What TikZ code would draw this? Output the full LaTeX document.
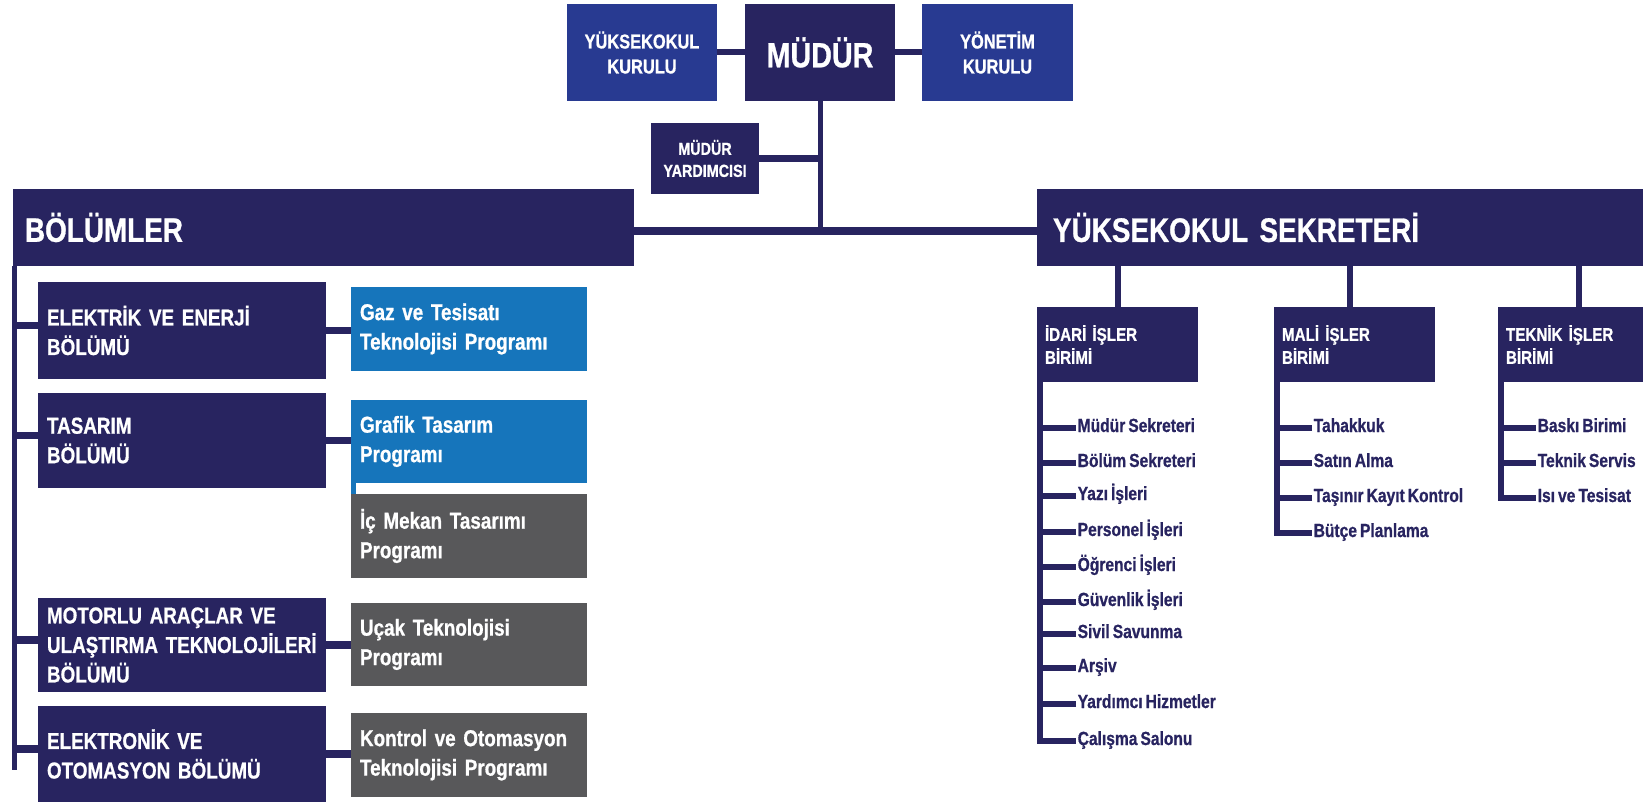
\documentclass[tikz,border=0pt]{standalone}
\usepackage{fontspec}
\newfontfamily\cnd{Liberation Sans}[FakeStretch=0.82, WordSpace=0.7, FakeBold=0.8]
\definecolor{navy}{RGB}{40,36,96}
\definecolor{topblue}{RGB}{40,58,145}
\definecolor{progblue}{RGB}{22,117,187}
\definecolor{proggray}{RGB}{88,88,90}
\tikzset{
  box/.style={anchor=north west, inner ysep=0pt, outer sep=0pt, text=white, align=left},
  topbox/.style={box, fill=topblue, align=center, inner xsep=0pt, text width=150pt, minimum height=97pt,
    font=\cnd\bfseries\fontsize{20}{25}\selectfont},
  chief/.style={box, fill=navy, align=center, inner xsep=0pt, text width=150pt, minimum height=97pt,
    font=\cnd\bfseries\fontsize{35}{40}\selectfont},
  deputy/.style={box, fill=navy, align=center, inner xsep=0pt, text width=108pt, minimum height=71pt,
    font=\cnd\bfseries\fontsize{17.5}{22}\selectfont},
  bar/.style={box, fill=navy, minimum height=77pt, font=\cnd\bfseries\fontsize{34}{40}\selectfont},
  dept/.style={box, fill=navy, inner xsep=9pt, text width=270pt, font=\cnd\bfseries\fontsize{23}{29.5}\selectfont},
  prog/.style={box, inner xsep=9pt, text width=218pt, minimum height=84pt, font=\cnd\bfseries\fontsize{23}{29.5}\selectfont},
  unit/.style={box, fill=navy, inner xsep=8pt, text width=145pt, minimum height=75pt, font=\cnd\bfseries\fontsize{18.5}{23}\selectfont},
  item/.style={anchor=west, inner xsep=1.5pt, inner ysep=0pt, text height=10pt, text depth=2pt, text=navy,
    font=\cnd\bfseries\fontsize{19}{22}\selectfont},
  conn/.style={draw=navy, line width=6pt},
  stub/.style={draw=navy, line width=7.5pt},
  vline/.style={draw=navy, line width=5pt},
  bconn/.style={draw=navy, line width=6pt},
}
\begin{document}
\hyphenpenalty=10000
\begin{tikzpicture}[x=1pt, y=-1pt]
\useasboundingbox (0,0) rectangle (1643,802);
\clip (0,0) rectangle (1643,802);
% top row
\node[topbox] (yk) at (567,4) {YÜKSEKOKUL\\KURULU};
\node[chief] (mudur) at (745,4) {MÜDÜR};
\node[topbox, text width=151pt] (yon) at (922,4) {YÖNETİM\\KURULU};
\node[deputy] (yard) at (651,123) {MÜDÜR\\YARDIMCISI};
% bars
\node[bar, inner xsep=12pt, text width=597pt] (bolumler) at (13,189) {BÖLÜMLER};
\node[bar, inner xsep=16pt, text width=588pt] (sek) at (1037,189) {YÜKSEKOKUL SEKRETERİ};
% departments
\node[dept, minimum height=97pt] (elek) at (38,282) {ELEKTRİK VE ENERJİ\\BÖLÜMÜ};
\node[dept, minimum height=95pt] (tasarim) at (38,393) {TASARIM\\BÖLÜMÜ};
\node[dept, minimum height=94pt] (motorlu) at (38,598) {MOTORLU ARAÇLAR VE\\ULAŞTIRMA TEKNOLOJİLERİ\\BÖLÜMÜ};
\node[dept, minimum height=96pt] (elektronik) at (38,706) {ELEKTRONİK VE\\OTOMASYON BÖLÜMÜ};
% programmes
\node[prog, fill=progblue] (gaz) at (351,287) {Gaz ve Tesisatı\\Teknolojisi Programı};
\node[prog, fill=progblue, minimum height=83pt] (grafik) at (351,400) {Grafik Tasarım\\Programı};
\node[prog, fill=proggray] (icmekan) at (351,494) {İç Mekan Tasarımı\\Programı};
\node[prog, fill=proggray, minimum height=83pt] (ucak) at (351,603) {Uçak Teknolojisi\\Programı};
\node[prog, fill=proggray] (kontrol) at (351,713) {Kontrol ve Otomasyon\\Teknolojisi Programı};
% units
\node[unit] (idari) at (1037,307) {İDARİ İŞLER\\BİRİMİ};
\node[unit] (mali) at (1274,307) {MALİ İŞLER\\BİRİMİ};
\node[unit] (teknik) at (1498,307) {TEKNİK İŞLER\\BİRİMİ};
% items
\node[item] (i1) at (1076,428) {Müdür Sekreteri};
\node[item] (i2) at (1076,463) {Bölüm Sekreteri};
\node[item] (i3) at (1076,496) {Yazı İşleri};
\node[item] (i4) at (1076,532) {Personel İşleri};
\node[item] (i5) at (1076,567) {Öğrenci İşleri};
\node[item] (i6) at (1076,602) {Güvenlik İşleri};
\node[item] (i7) at (1076,634) {Sivil Savunma};
\node[item] (i8) at (1076,668) {Arşiv};
\node[item] (i9) at (1076,704) {Yardımcı Hizmetler};
\node[item] (i10) at (1076,741) {Çalışma Salonu};
\node[item] (m1) at (1312,428) {Tahakkuk};
\node[item] (m2) at (1312,463) {Satın Alma};
\node[item] (m3) at (1312,498) {Taşınır Kayıt Kontrol};
\node[item] (m4) at (1312,533) {Bütçe Planlama};
\node[item] (t1) at (1536,428) {Baskı Birimi};
\node[item] (t2) at (1536,463) {Teknik Servis};
\node[item] (t3) at (1536,498) {Isı ve Tesisat};
% top connectors
\draw[conn] (yk) -- (mudur);
\draw[conn] (mudur) -- (yon);
\coordinate (hl) at ([yshift=-3.5pt]bolumler.east);
\coordinate (hr) at ([yshift=-3.5pt]sek.west);
\draw[stub] (hl) -- (hr);
\draw[vline] (mudur.south) -- (mudur.south |- hl);
\draw[stub] (yard.east) -- (yard.east -| mudur.south);
% left spine
\coordinate (ltop) at ([xshift=1.5pt]bolumler.south west);
\coordinate (lend) at (14.5,770);
\draw[vline] (ltop) -- (lend);
\foreach \d in {elek,tasarim,motorlu,elektronik}{
  \coordinate (s-\d) at ([yshift=5pt]\d.west);
  \draw[stub] (s-\d) -- (s-\d -| lend);
}
\draw[stub] (elek.east) -- (elek.east -| gaz.west);
\draw[stub] (tasarim.east) -- (tasarim.east -| grafik.west);
\draw[stub] (motorlu.east) -- (motorlu.east -| ucak.west);
\draw[stub] (elektronik.east) -- (elektronik.east -| kontrol.west);
\draw[line width=5pt, progblue] ([xshift=2.5pt]grafik.south west) -- ([xshift=2.5pt]icmekan.north west);
% right side
\draw[conn] (idari.north) -- (idari.north |- sek.south);
\draw[conn] ([xshift=-5pt]mali.north) -- ([xshift=-5pt]mali.north |- sek.south);
\draw[conn] (teknik.north) -- (teknik.north |- sek.south);
\coordinate (bi) at ([xshift=3pt]idari.south west);
\coordinate (bm) at ([xshift=3pt]mali.south west);
\coordinate (bt) at ([xshift=3pt]teknik.south west);
\draw[bconn] (bi) |- (i10.west);
\foreach \n in {i1,i2,i3,i4,i5,i6,i7,i8,i9}{\draw[bconn] (\n.west) -- (\n.west -| bi);}
\draw[bconn] (bm) |- (m4.west);
\foreach \n in {m1,m2,m3}{\draw[bconn] (\n.west) -- (\n.west -| bm);}
\draw[bconn] (bt) |- (t3.west);
\foreach \n in {t1,t2}{\draw[bconn] (\n.west) -- (\n.west -| bt);}
\end{tikzpicture}
\end{document}
